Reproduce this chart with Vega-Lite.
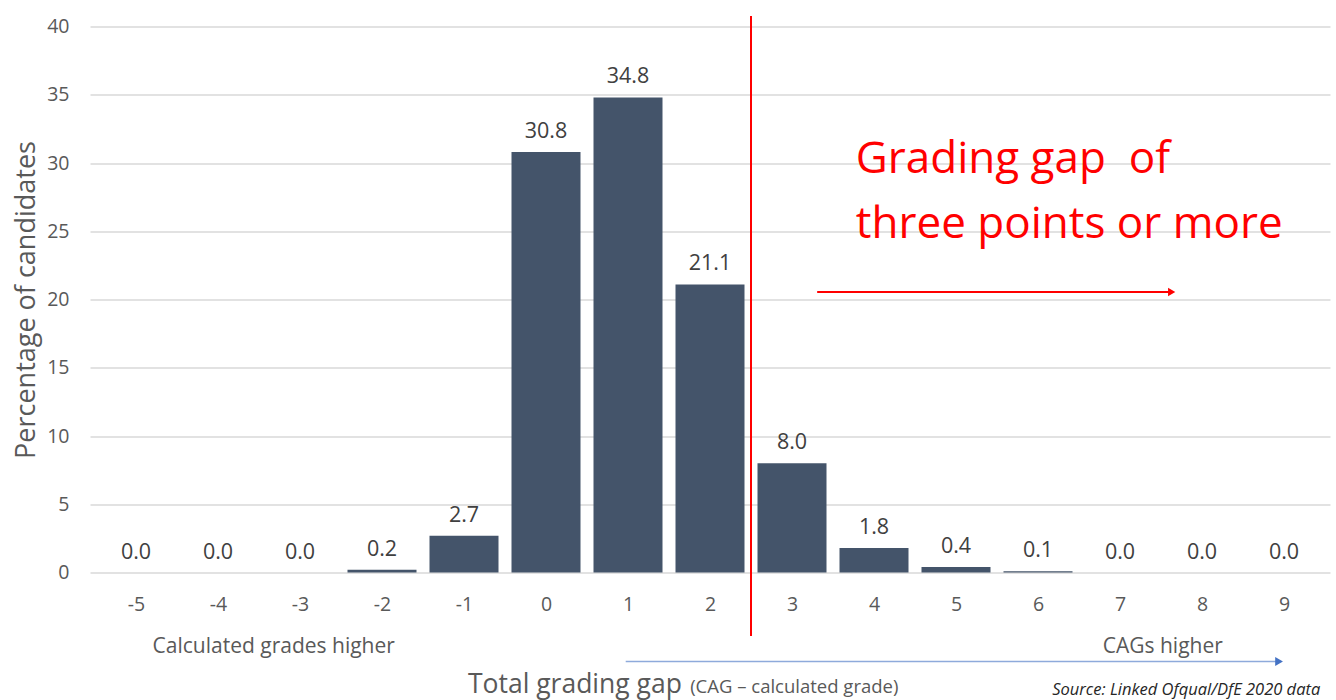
{
  "$schema": "https://vega.github.io/schema/vega-lite/v6.json",
  "width": 1240,
  "height": 546,
  "autosize": {"type": "none"},
  "padding": {"left": 90, "top": 26.5, "right": 6, "bottom": 127.5},
  "background": "white",
  "config": {"view": {"stroke": null}, "font": "Open Sans"},
  "data": {
    "values": [
      {"gap": -5, "pct": 0.0},
      {"gap": -4, "pct": 0.0},
      {"gap": -3, "pct": 0.0},
      {"gap": -2, "pct": 0.2},
      {"gap": -1, "pct": 2.7},
      {"gap": 0, "pct": 30.8},
      {"gap": 1, "pct": 34.8},
      {"gap": 2, "pct": 21.1},
      {"gap": 3, "pct": 8.0},
      {"gap": 4, "pct": 1.8},
      {"gap": 5, "pct": 0.4},
      {"gap": 6, "pct": 0.1},
      {"gap": 7, "pct": 0.0},
      {"gap": 8, "pct": 0.0},
      {"gap": 9, "pct": 0.0}
    ]
  },
  "layer": [
    {
      "mark": {"type": "bar", "color": "#44546a", "size": 69},
      "encoding": {
        "x": {
          "field": "gap",
          "type": "quantitative",
          "scale": {"domain": [-5.5, 9.5], "nice": false, "zero": false},
          "axis": {
            "values": [-5, -4, -3, -2, -1, 0, 1, 2, 3, 4, 5, 6, 7, 8, 9],
            "labelExpr": "'' + datum.value",
            "grid": false,
            "domain": false,
            "ticks": false,
            "labelFlush": false,
            "labelPadding": 23,
            "labelFontSize": 19.5,
            "labelColor": "#595959",
            "labelFont": "Open Sans",
            "title": null
          }
        },
        "y": {
          "field": "pct",
          "type": "quantitative",
          "scale": {"domain": [0, 40], "nice": false},
          "axis": {
            "values": [0, 5, 10, 15, 20, 25, 30, 35, 40],
            "grid": true,
            "gridColor": "#d9d9d9",
            "gridWidth": 1.5,
            "domain": false,
            "ticks": false,
            "labelPadding": 21,
            "labelFontSize": 19.5,
            "labelColor": "#595959",
            "labelFont": "Open Sans",
            "title": "Percentage of candidates",
            "titleFont": "Open Sans",
            "titleFontSize": 27,
            "titleFontWeight": "normal",
            "titleColor": "#595959",
            "titlePadding": 6
          }
        }
      }
    },
    {
      "mark": {"type": "text", "dy": -14, "fontSize": 21.5, "color": "#404040", "font": "Open Sans", "baseline": "alphabetic"},
      "encoding": {
        "x": {"field": "gap", "type": "quantitative"},
        "y": {"field": "pct", "type": "quantitative"},
        "text": {"field": "pct", "type": "quantitative", "format": ".1f"}
      }
    },
    {
      "data": {"values": [{}]},
      "mark": {"type": "rule", "color": "#ff0000", "strokeWidth": 2},
      "encoding": {"x": {"datum": 2.5}, "y": {"datum": 40.77}, "y2": {"datum": -4.65}}
    },
    {
      "data": {"values": [{}]},
      "mark": {"type": "rule", "color": "#ff0000", "strokeWidth": 2},
      "encoding": {"x": {"datum": 3.307}, "x2": {"datum": 7.63}, "y": {"datum": 20.55}}
    },
    {
      "data": {"values": [{}]},
      "mark": {"type": "point", "shape": "triangle-right", "filled": true, "color": "#ff0000", "size": 70, "opacity": 1},
      "encoding": {"x": {"datum": 7.63}, "y": {"datum": 20.55}}
    },
    {
      "data": {"values": [{}]},
      "mark": {"type": "rule", "color": "#8eaadb", "strokeWidth": 1.5},
      "encoding": {"x": {"datum": 0.972}, "x2": {"datum": 8.94}, "y": {"datum": -6.52}}
    },
    {
      "data": {"values": [{}]},
      "mark": {"type": "point", "shape": "triangle-right", "filled": true, "color": "#4472c4", "size": 80, "opacity": 1},
      "encoding": {"x": {"datum": 8.94}, "y": {"datum": -6.52}}
    },
    {
      "data": {"values": [{}]},
      "mark": {"type": "text", "text": ["Grading gap\u00a0 of", "three points or more"], "align": "left", "baseline": "alphabetic", "fontSize": 44, "lineHeight": 65, "color": "#ff0000", "font": "Open Sans"},
      "encoding": {"x": {"datum": 3.778}, "y": {"datum": 29.27}}
    },
    {
      "data": {"values": [{}]},
      "mark": {"type": "text", "text": "Calculated grades higher", "align": "left", "baseline": "middle", "fontSize": 21, "color": "#595959", "font": "Open Sans"},
      "encoding": {"x": {"datum": -4.798}, "y": {"datum": -5.46}}
    },
    {
      "data": {"values": [{}]},
      "mark": {"type": "text", "text": "CAGs higher", "align": "right", "baseline": "middle", "fontSize": 21, "color": "#595959", "font": "Open Sans"},
      "encoding": {"x": {"datum": 8.254}, "y": {"datum": -5.46}}
    },
    {
      "data": {"values": [{}]},
      "mark": {"type": "text", "text": "Total grading gap", "align": "left", "baseline": "alphabetic", "fontSize": 26.5, "color": "#595959", "font": "Open Sans"},
      "encoding": {"x": {"datum": -0.952}, "y": {"datum": -8.83}}
    },
    {
      "data": {"values": [{}]},
      "mark": {"type": "text", "text": "(CAG – calculated grade)", "align": "left", "baseline": "alphabetic", "fontSize": 18.5, "color": "#595959", "font": "Open Sans"},
      "encoding": {"x": {"datum": 1.758}, "y": {"datum": -8.83}}
    },
    {
      "data": {"values": [{}]},
      "mark": {"type": "text", "text": "Source: Linked Ofqual/DfE 2020 data", "align": "left", "baseline": "alphabetic", "fontSize": 16.5, "fontStyle": "italic", "color": "#262626", "font": "Open Sans"},
      "encoding": {"x": {"datum": 6.173}, "y": {"datum": -8.95}}
    }
  ]
}
